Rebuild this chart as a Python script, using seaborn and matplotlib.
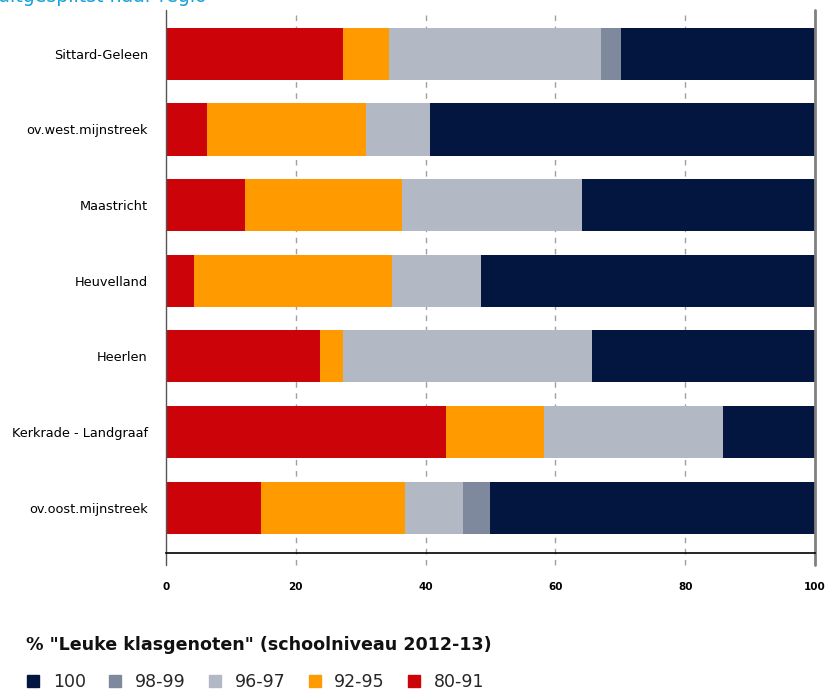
import matplotlib
matplotlib.use('Agg')
import matplotlib.pyplot as plt
from matplotlib.lines import Line2D
import seaborn as sns
import pandas as pd
import numpy as np

# --- Data (aandeel scholen per categorie, %) ---
regions = ['Sittard-Geleen', 'ov.west.mijnstreek', 'Maastricht', 'Heuvelland',
           'Heerlen', 'Kerkrade - Landgraaf', 'ov.oost.mijnstreek']
cat_labels = ['100', '98-99', '96-97', '92-95', '80-91']
v_80_91 = [27.2, 6.3, 12.2, 4.3, 23.7, 43.2, 14.7]
v_92_95 = [7.1, 24.5, 24.1, 30.5, 3.5, 15.0, 22.1]
v_96_97 = [32.8, 9.9, 27.8, 13.7, 38.4, 27.7, 8.9]
v_98_99 = [3.0, 0.0, 0.0, 0.0, 0.0, 0.0, 4.3]
v_100 = [29.9, 59.3, 35.9, 51.5, 34.4, 14.1, 50.0]

colors = {'100': '#02163f', '98-99': '#7f899e', '96-97': '#b3b9c4',
          '92-95': '#ff9a00', '80-91': '#cc0309'}

sns.set_theme(style="white")
plt.rcParams['font.family'] = ['DejaVu Sans']

df = pd.DataFrame({'region': regions, '80-91': v_80_91, '92-95': v_92_95,
                   '96-97': v_96_97, '98-99': v_98_99, '100': v_100})
# cumulatieve sommen, van links (80-91) naar rechts (100)
order_lr = ['80-91', '92-95', '96-97', '98-99', '100']
cum = df[order_lr].cumsum(axis=1)

fig = plt.figure(figsize=(8.27, 6.92), dpi=100)
ax = fig.add_axes([166 / 827, 1 - 553 / 692, 649 / 827, 543 / 692])

# langste balk eerst, kortere eroverheen
for key in reversed(order_lr):
    sns.barplot(x=cum[key], y=df['region'], order=regions, orient='h',
                color=colors[key], width=0.69, saturation=1, ax=ax,
                edgecolor='none', linewidth=0)

ax.set_xlim(0, 100)
ax.set_ylim(6.6, -0.58)
ax.set_xlabel('')
ax.set_ylabel('')
for s in ['top', 'right', 'left']:
    ax.spines[s].set_visible(False)
ax.spines['bottom'].set_color('black')
ax.spines['bottom'].set_linewidth(1.2)
ax.spines['bottom'].set_zorder(5)

# rasterlijnen
ext = 12 / 543
for xv in [20, 40, 60, 80]:
    ax.axvline(xv, ymin=-ext, ymax=1, color='#a0a0a0', linestyle=(0, (4, 4)),
               linewidth=1, clip_on=False, zorder=0)
ax.axvline(0, ymin=-ext, ymax=1, color='#555555', linewidth=1, clip_on=False, zorder=4)
ax.axvline(100, ymin=-ext, ymax=1, color='#808080', linewidth=2, clip_on=False, zorder=4)

ax.set_xticks([0, 20, 40, 60, 80, 100])
ax.set_xticklabels(['0', '20', '40', '60', '80', '100'], fontsize=7.5, fontweight='bold')
ax.tick_params(axis='x', length=0, pad=21, colors='black')
ax.tick_params(axis='y', length=0, pad=13, labelsize=9.3, colors='black')

# afgesneden kop bovenaan (ook in het origineel half buiten beeld)
fig.text(-0.003, 1 - 2.5 / 692, 'uitgesplitst naar regio', color='#1aa3d9',
         fontsize=13.6, va='baseline', ha='left')

fig.text(26 / 827, 1 - 645 / 692, '% "Leuke klasgenoten" (schoolniveau 2012-13)',
         fontsize=12.6, fontweight='bold', va='center', ha='left', color='#111111')

handles = [Line2D([], [], marker='s', linestyle='none', markersize=8,
                  markerfacecolor=colors[c], markeredgecolor=colors[c]) for c in cat_labels]
fig.legend(handles, cat_labels, loc='center left', ncol=5, frameon=False,
           bbox_to_anchor=(26.5 / 827, 1 - 682 / 692), fontsize=12.5,
           borderaxespad=0, borderpad=0,
           handlelength=0.8, handletextpad=0.72, columnspacing=1.3)

fig.savefig('out.png', dpi=100)
